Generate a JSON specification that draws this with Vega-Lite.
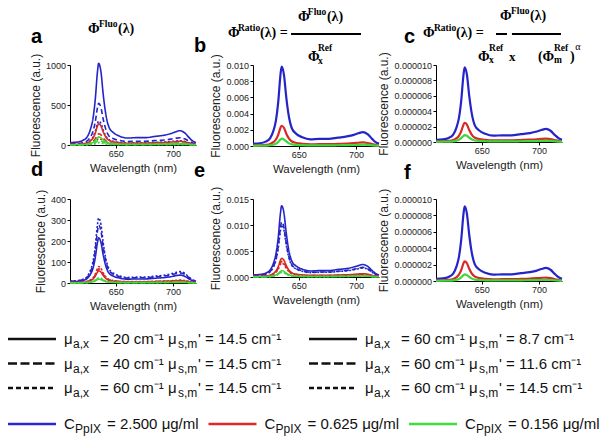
{
"$schema":"https://vega.github.io/schema/vega-lite/v6.json",
"padding":{"left":6,"top":6,"right":0,"bottom":0},
"config":{"view":{"stroke":null},"font":"Liberation Sans",
"axis":{"grid":false,"domainColor":"#000","tickColor":"#000","tickSize":3,"labelFontSize":9,"labelColor":"#222","labelPadding":1.5,"titleFontSize":12,"titleFontWeight":"normal","titleColor":"#222","titlePadding":3,"labelFont":"Liberation Sans","titleFont":"Liberation Sans","labelOverlap":false,"labelFlush":false},
"axisX":{"titleFontSize":11.5,"titlePadding":4}},
"datasets":{
"a":[
{"wl":610,"B1":31,"B2":16,"B3":9,"R1":8,"R2":4.2,"R3":2.4,"G1":3,"G2":1.7,"G3":0.9},
{"wl":616,"B1":36,"B2":18,"B3":10.5,"R1":9.3,"R2":4.9,"R3":2.8,"G1":3.5,"G2":1.9,"G3":1.05},
{"wl":621,"B1":56,"B2":29,"B3":16.5,"R1":14.6,"R2":7.7,"R3":4.4,"G1":5.5,"G2":3,"G3":1.65},
{"wl":625,"B1":102,"B2":52,"B3":30,"R1":26.5,"R2":14,"R3":8,"G1":10,"G2":5.5,"G3":3},
{"wl":628,"B1":204,"B2":104,"B3":60,"R1":53,"R2":28,"R3":16,"G1":20,"G2":11,"G3":6},
{"wl":630,"B1":326,"B2":166,"B3":96,"R1":84.8,"R2":44.8,"R3":25.6,"G1":32,"G2":17.6,"G3":9.6},
{"wl":632,"B1":561,"B2":286,"B3":165,"R1":145.8,"R2":77,"R3":44,"G1":55,"G2":30.3,"G3":16.5},
{"wl":634,"B1":918,"B2":468,"B3":270,"R1":238.5,"R2":126,"R3":72,"G1":90,"G2":49.5,"G3":27},
{"wl":635,"B1":1020,"B2":520,"B3":300,"R1":265,"R2":140,"R3":80,"G1":100,"G2":55,"G3":30},
{"wl":637,"B1":918,"B2":468,"B3":270,"R1":238.5,"R2":126,"R3":72,"G1":90,"G2":49.5,"G3":27},
{"wl":639,"B1":632,"B2":322,"B3":186,"R1":164.3,"R2":86.8,"R3":49.6,"G1":62,"G2":34.1,"G3":18.6},
{"wl":641,"B1":408,"B2":208,"B3":120,"R1":106,"R2":56,"R3":32,"G1":40,"G2":22,"G3":12},
{"wl":644,"B1":224,"B2":114,"B3":66,"R1":58.3,"R2":30.8,"R3":17.6,"G1":22,"G2":12.1,"G3":6.6},
{"wl":648,"B1":153,"B2":78,"B3":45,"R1":39.8,"R2":21,"R3":12,"G1":15,"G2":8.3,"G3":4.5},
{"wl":653,"B1":112,"B2":57,"B3":33,"R1":29.2,"R2":15.4,"R3":8.8,"G1":11,"G2":6.1,"G3":3.3},
{"wl":660,"B1":87,"B2":44,"B3":25.5,"R1":22.5,"R2":11.9,"R3":6.8,"G1":8.5,"G2":4.7,"G3":2.55},
{"wl":668,"B1":92,"B2":47,"B3":27,"R1":23.9,"R2":12.6,"R3":7.2,"G1":9,"G2":5,"G3":2.7},
{"wl":676,"B1":92,"B2":47,"B3":27,"R1":23.9,"R2":12.6,"R3":7.2,"G1":9,"G2":5,"G3":2.7},
{"wl":684,"B1":107,"B2":55,"B3":31.5,"R1":27.8,"R2":14.7,"R3":8.4,"G1":10.5,"G2":5.8,"G3":3.15},
{"wl":692,"B1":122,"B2":62,"B3":36,"R1":31.8,"R2":16.8,"R3":9.6,"G1":12,"G2":6.6,"G3":3.6},
{"wl":698,"B1":143,"B2":73,"B3":42,"R1":37.1,"R2":19.6,"R3":11.2,"G1":14,"G2":7.7,"G3":4.2},
{"wl":702,"B1":163,"B2":83,"B3":48,"R1":42.4,"R2":22.4,"R3":12.8,"G1":16,"G2":8.8,"G3":4.8},
{"wl":706,"B1":179,"B2":91,"B3":52.5,"R1":46.4,"R2":24.5,"R3":14,"G1":17.5,"G2":9.6,"G3":5.25},
{"wl":710,"B1":153,"B2":78,"B3":45,"R1":39.8,"R2":21,"R3":12,"G1":15,"G2":8.3,"G3":4.5},
{"wl":714,"B1":92,"B2":47,"B3":27,"R1":23.9,"R2":12.6,"R3":7.2,"G1":9,"G2":5,"G3":2.7},
{"wl":717,"B1":51,"B2":26,"B3":15,"R1":13.3,"R2":7,"R3":4,"G1":5,"G2":2.8,"G3":1.5},
{"wl":720,"B1":31,"B2":16,"B3":9,"R1":8,"R2":4.2,"R3":2.4,"G1":3,"G2":1.7,"G3":0.9}],
"d":[
{"wl":610,"B1":6.5,"B2":8.3,"B3":9.3,"R1":1.7,"R2":2,"R3":2.3,"G1":0.54,"G2":0.66,"G3":0.75},
{"wl":616,"B1":7.5,"B2":9.6,"B3":10.9,"R1":2,"R2":2.4,"R3":2.7,"G1":0.63,"G2":0.77,"G3":0.88},
{"wl":621,"B1":11.8,"B2":15.1,"B3":17.1,"R1":3.2,"R2":3.7,"R3":4.3,"G1":0.99,"G2":1.21,"G3":1.38},
{"wl":625,"B1":21.5,"B2":27.5,"B3":31,"R1":5.8,"R2":6.8,"R3":7.8,"G1":1.8,"G2":2.2,"G3":2.5},
{"wl":628,"B1":43,"B2":55,"B3":62,"R1":11.6,"R2":13.6,"R3":15.6,"G1":3.6,"G2":4.4,"G3":5},
{"wl":630,"B1":68.8,"B2":88,"B3":99.2,"R1":18.6,"R2":21.8,"R3":25,"G1":5.76,"G2":7.04,"G3":8},
{"wl":632,"B1":118.3,"B2":151.3,"B3":170.5,"R1":31.9,"R2":37.4,"R3":42.9,"G1":9.9,"G2":12.1,"G3":13.75},
{"wl":634,"B1":193.5,"B2":247.5,"B3":279,"R1":52.2,"R2":61.2,"R3":70.2,"G1":16.2,"G2":19.8,"G3":22.5},
{"wl":635,"B1":215,"B2":275,"B3":310,"R1":58,"R2":68,"R3":78,"G1":18,"G2":22,"G3":25},
{"wl":637,"B1":193.5,"B2":247.5,"B3":279,"R1":52.2,"R2":61.2,"R3":70.2,"G1":16.2,"G2":19.8,"G3":22.5},
{"wl":639,"B1":133.3,"B2":170.5,"B3":192.2,"R1":36,"R2":42.2,"R3":48.4,"G1":11.16,"G2":13.64,"G3":15.5},
{"wl":641,"B1":86,"B2":110,"B3":124,"R1":23.2,"R2":27.2,"R3":31.2,"G1":7.2,"G2":8.8,"G3":10},
{"wl":644,"B1":47.3,"B2":60.5,"B3":68.2,"R1":12.8,"R2":15,"R3":17.2,"G1":3.96,"G2":4.84,"G3":5.5},
{"wl":648,"B1":32.3,"B2":41.3,"B3":46.5,"R1":8.7,"R2":10.2,"R3":11.7,"G1":2.7,"G2":3.3,"G3":3.75},
{"wl":653,"B1":23.7,"B2":30.3,"B3":34.1,"R1":6.4,"R2":7.5,"R3":8.6,"G1":1.98,"G2":2.42,"G3":2.75},
{"wl":660,"B1":18.3,"B2":23.4,"B3":26.4,"R1":4.9,"R2":5.8,"R3":6.6,"G1":1.53,"G2":1.87,"G3":2.13},
{"wl":668,"B1":19.4,"B2":24.8,"B3":27.9,"R1":5.2,"R2":6.1,"R3":7,"G1":1.62,"G2":1.98,"G3":2.25},
{"wl":676,"B1":19.4,"B2":24.8,"B3":27.9,"R1":5.2,"R2":6.1,"R3":7,"G1":1.62,"G2":1.98,"G3":2.25},
{"wl":684,"B1":22.6,"B2":28.9,"B3":32.6,"R1":6.1,"R2":7.1,"R3":8.2,"G1":1.89,"G2":2.31,"G3":2.63},
{"wl":692,"B1":25.8,"B2":33,"B3":37.2,"R1":7,"R2":8.2,"R3":9.4,"G1":2.16,"G2":2.64,"G3":3},
{"wl":698,"B1":30.1,"B2":38.5,"B3":43.4,"R1":8.1,"R2":9.5,"R3":10.9,"G1":2.52,"G2":3.08,"G3":3.5},
{"wl":702,"B1":34.4,"B2":44,"B3":49.6,"R1":9.3,"R2":10.9,"R3":12.5,"G1":2.88,"G2":3.52,"G3":4},
{"wl":706,"B1":37.6,"B2":48.1,"B3":54.3,"R1":10.2,"R2":11.9,"R3":13.7,"G1":3.15,"G2":3.85,"G3":4.38},
{"wl":710,"B1":32.3,"B2":41.3,"B3":46.5,"R1":8.7,"R2":10.2,"R3":11.7,"G1":2.7,"G2":3.3,"G3":3.75},
{"wl":714,"B1":19.4,"B2":24.8,"B3":27.9,"R1":5.2,"R2":6.1,"R3":7,"G1":1.62,"G2":1.98,"G3":2.25},
{"wl":717,"B1":10.8,"B2":13.8,"B3":15.5,"R1":2.9,"R2":3.4,"R3":3.9,"G1":0.9,"G2":1.1,"G3":1.25},
{"wl":720,"B1":6.5,"B2":8.3,"B3":9.3,"R1":1.7,"R2":2,"R3":2.3,"G1":0.54,"G2":0.66,"G3":0.75}],
"e":[
{"wl":610,"B1":0.00041,"B2":0.00032,"B3":0.0003,"R1":0.00011,"R2":0.00009,"R3":0.00008,"G1":0.000036,"G2":0.00003,"G3":0.000027},
{"wl":616,"B1":0.00048,"B2":0.00037,"B3":0.00035,"R1":0.00013,"R2":0.000105,"R3":0.00009,"G1":0.000042,"G2":0.000035,"G3":0.000032},
{"wl":621,"B1":0.00075,"B2":0.00058,"B3":0.00055,"R1":0.0002,"R2":0.000165,"R3":0.00015,"G1":0.000066,"G2":0.000055,"G3":0.00005},
{"wl":625,"B1":0.00137,"B2":0.00106,"B3":0.001,"R1":0.00036,"R2":0.0003,"R3":0.00027,"G1":0.00012,"G2":0.0001,"G3":0.00009},
{"wl":628,"B1":0.00274,"B2":0.00212,"B3":0.002,"R1":0.00072,"R2":0.0006,"R3":0.00054,"G1":0.00024,"G2":0.0002,"G3":0.00018},
{"wl":630,"B1":0.00438,"B2":0.00339,"B3":0.0032,"R1":0.00115,"R2":0.00096,"R3":0.00086,"G1":0.000384,"G2":0.00032,"G3":0.000288},
{"wl":632,"B1":0.00754,"B2":0.00583,"B3":0.0055,"R1":0.00198,"R2":0.00165,"R3":0.00149,"G1":0.00066,"G2":0.00055,"G3":0.000495},
{"wl":634,"B1":0.01233,"B2":0.00954,"B3":0.009,"R1":0.00324,"R2":0.0027,"R3":0.00243,"G1":0.00108,"G2":0.0009,"G3":0.00081},
{"wl":635,"B1":0.0137,"B2":0.0106,"B3":0.01,"R1":0.0036,"R2":0.003,"R3":0.0027,"G1":0.0012,"G2":0.001,"G3":0.0009},
{"wl":637,"B1":0.01233,"B2":0.00954,"B3":0.009,"R1":0.00324,"R2":0.0027,"R3":0.00243,"G1":0.00108,"G2":0.0009,"G3":0.00081},
{"wl":639,"B1":0.00849,"B2":0.00657,"B3":0.0062,"R1":0.00223,"R2":0.00186,"R3":0.00167,"G1":0.000744,"G2":0.00062,"G3":0.000558},
{"wl":641,"B1":0.00548,"B2":0.00424,"B3":0.004,"R1":0.00144,"R2":0.0012,"R3":0.00108,"G1":0.00048,"G2":0.0004,"G3":0.00036},
{"wl":644,"B1":0.00301,"B2":0.00233,"B3":0.0022,"R1":0.00079,"R2":0.00066,"R3":0.00059,"G1":0.000264,"G2":0.00022,"G3":0.000198},
{"wl":648,"B1":0.00206,"B2":0.00159,"B3":0.0015,"R1":0.00054,"R2":0.00045,"R3":0.00041,"G1":0.00018,"G2":0.00015,"G3":0.000135},
{"wl":653,"B1":0.00151,"B2":0.00117,"B3":0.0011,"R1":0.0004,"R2":0.00033,"R3":0.0003,"G1":0.000132,"G2":0.00011,"G3":0.000099},
{"wl":660,"B1":0.00116,"B2":0.0009,"B3":0.00085,"R1":0.00031,"R2":0.000255,"R3":0.00023,"G1":0.000102,"G2":0.000085,"G3":0.000077},
{"wl":668,"B1":0.00123,"B2":0.00095,"B3":0.0009,"R1":0.00032,"R2":0.00027,"R3":0.00024,"G1":0.000108,"G2":0.00009,"G3":0.000081},
{"wl":676,"B1":0.00123,"B2":0.00095,"B3":0.0009,"R1":0.00032,"R2":0.00027,"R3":0.00024,"G1":0.000108,"G2":0.00009,"G3":0.000081},
{"wl":684,"B1":0.00144,"B2":0.00111,"B3":0.00105,"R1":0.00038,"R2":0.000315,"R3":0.00028,"G1":0.000126,"G2":0.000105,"G3":0.000095},
{"wl":692,"B1":0.00164,"B2":0.00127,"B3":0.0012,"R1":0.00043,"R2":0.00036,"R3":0.00032,"G1":0.000144,"G2":0.00012,"G3":0.000108},
{"wl":698,"B1":0.00192,"B2":0.00148,"B3":0.0014,"R1":0.0005,"R2":0.00042,"R3":0.00038,"G1":0.000168,"G2":0.00014,"G3":0.000126},
{"wl":702,"B1":0.00219,"B2":0.0017,"B3":0.0016,"R1":0.00058,"R2":0.00048,"R3":0.00043,"G1":0.000192,"G2":0.00016,"G3":0.000144},
{"wl":706,"B1":0.0024,"B2":0.00186,"B3":0.00175,"R1":0.00063,"R2":0.000525,"R3":0.00047,"G1":0.00021,"G2":0.000175,"G3":0.000158},
{"wl":710,"B1":0.00206,"B2":0.00159,"B3":0.0015,"R1":0.00054,"R2":0.00045,"R3":0.00041,"G1":0.00018,"G2":0.00015,"G3":0.000135},
{"wl":714,"B1":0.00123,"B2":0.00095,"B3":0.0009,"R1":0.00032,"R2":0.00027,"R3":0.00024,"G1":0.000108,"G2":0.00009,"G3":0.000081},
{"wl":717,"B1":0.00069,"B2":0.00053,"B3":0.0005,"R1":0.00018,"R2":0.00015,"R3":0.00014,"G1":0.00006,"G2":0.00005,"G3":0.000045},
{"wl":720,"B1":0.00041,"B2":0.00032,"B3":0.0003,"R1":0.00011,"R2":0.00009,"R3":0.00008,"G1":0.000036,"G2":0.00003,"G3":0.000027}],
"b":[
{"wl":610,"B1":0.00029,"R1":0.000075,"G1":0.000027},
{"wl":616,"B1":0.00034,"R1":0.000088,"G1":0.000032},
{"wl":621,"B1":0.00054,"R1":0.000138,"G1":0.00005},
{"wl":625,"B1":0.00098,"R1":0.00025,"G1":0.00009},
{"wl":628,"B1":0.00196,"R1":0.0005,"G1":0.00018},
{"wl":630,"B1":0.00314,"R1":0.0008,"G1":0.000288},
{"wl":632,"B1":0.00539,"R1":0.001375,"G1":0.000495},
{"wl":634,"B1":0.00882,"R1":0.00225,"G1":0.00081},
{"wl":635,"B1":0.0098,"R1":0.0025,"G1":0.0009},
{"wl":637,"B1":0.00882,"R1":0.00225,"G1":0.00081},
{"wl":639,"B1":0.00608,"R1":0.00155,"G1":0.000558},
{"wl":641,"B1":0.00392,"R1":0.001,"G1":0.00036},
{"wl":644,"B1":0.00216,"R1":0.00055,"G1":0.000198},
{"wl":648,"B1":0.00147,"R1":0.000375,"G1":0.000135},
{"wl":653,"B1":0.00108,"R1":0.000275,"G1":0.000099},
{"wl":660,"B1":0.00083,"R1":0.000213,"G1":0.000077},
{"wl":668,"B1":0.00088,"R1":0.000225,"G1":0.000081},
{"wl":676,"B1":0.00088,"R1":0.000225,"G1":0.000081},
{"wl":684,"B1":0.00103,"R1":0.000263,"G1":0.000095},
{"wl":692,"B1":0.00118,"R1":0.0003,"G1":0.000108},
{"wl":698,"B1":0.00137,"R1":0.00035,"G1":0.000126},
{"wl":702,"B1":0.00157,"R1":0.0004,"G1":0.000144},
{"wl":706,"B1":0.00172,"R1":0.000438,"G1":0.000158},
{"wl":710,"B1":0.00147,"R1":0.000375,"G1":0.000135},
{"wl":714,"B1":0.00088,"R1":0.000225,"G1":0.000081},
{"wl":717,"B1":0.00049,"R1":0.000125,"G1":0.000045},
{"wl":720,"B1":0.00029,"R1":0.000075,"G1":0.000027}],
"c":[
{"wl":610,"B1":2.9e-7,"R1":7.5e-8,"G1":2.7e-8},
{"wl":616,"B1":3.4e-7,"R1":8.8e-8,"G1":3.2e-8},
{"wl":621,"B1":5.3e-7,"R1":1.38e-7,"G1":5e-8},
{"wl":625,"B1":9.7e-7,"R1":2.5e-7,"G1":9e-8},
{"wl":628,"B1":1.94e-6,"R1":5e-7,"G1":1.8e-7},
{"wl":630,"B1":3.1e-6,"R1":8e-7,"G1":2.9e-7},
{"wl":632,"B1":5.34e-6,"R1":1.38e-6,"G1":5e-7},
{"wl":634,"B1":8.73e-6,"R1":2.25e-6,"G1":8.1e-7},
{"wl":635,"B1":9.7e-6,"R1":2.5e-6,"G1":9e-7},
{"wl":637,"B1":8.73e-6,"R1":2.25e-6,"G1":8.1e-7},
{"wl":639,"B1":6.01e-6,"R1":1.55e-6,"G1":5.6e-7},
{"wl":641,"B1":3.88e-6,"R1":1e-6,"G1":3.6e-7},
{"wl":644,"B1":2.13e-6,"R1":5.5e-7,"G1":2e-7},
{"wl":648,"B1":1.46e-6,"R1":3.8e-7,"G1":1.35e-7},
{"wl":653,"B1":1.07e-6,"R1":2.8e-7,"G1":1e-7},
{"wl":660,"B1":8.2e-7,"R1":2.1e-7,"G1":7.7e-8},
{"wl":668,"B1":8.7e-7,"R1":2.3e-7,"G1":8.1e-8},
{"wl":676,"B1":8.7e-7,"R1":2.3e-7,"G1":8.1e-8},
{"wl":684,"B1":1.02e-6,"R1":2.6e-7,"G1":9.5e-8},
{"wl":692,"B1":1.16e-6,"R1":3e-7,"G1":1.08e-7},
{"wl":698,"B1":1.36e-6,"R1":3.5e-7,"G1":1.26e-7},
{"wl":702,"B1":1.55e-6,"R1":4e-7,"G1":1.44e-7},
{"wl":706,"B1":1.7e-6,"R1":4.4e-7,"G1":1.58e-7},
{"wl":710,"B1":1.46e-6,"R1":3.8e-7,"G1":1.35e-7},
{"wl":714,"B1":8.7e-7,"R1":2.3e-7,"G1":8.1e-8},
{"wl":717,"B1":4.9e-7,"R1":1.3e-7,"G1":4.5e-8},
{"wl":720,"B1":2.9e-7,"R1":7.5e-8,"G1":2.7e-8}],
"f":[
{"wl":610,"B1":2.7e-7,"R1":7.2e-8,"G1":2.4e-8},
{"wl":616,"B1":3.2e-7,"R1":8.4e-8,"G1":2.8e-8},
{"wl":621,"B1":5e-7,"R1":1.32e-7,"G1":4.4e-8},
{"wl":625,"B1":9.1e-7,"R1":2.4e-7,"G1":8e-8},
{"wl":628,"B1":1.82e-6,"R1":4.8e-7,"G1":1.6e-7},
{"wl":630,"B1":2.91e-6,"R1":7.7e-7,"G1":2.56e-7},
{"wl":632,"B1":5.01e-6,"R1":1.32e-6,"G1":4.4e-7},
{"wl":634,"B1":8.19e-6,"R1":2.16e-6,"G1":7.2e-7},
{"wl":635,"B1":9.1e-6,"R1":2.4e-6,"G1":8e-7},
{"wl":637,"B1":8.19e-6,"R1":2.16e-6,"G1":7.2e-7},
{"wl":639,"B1":5.64e-6,"R1":1.49e-6,"G1":5e-7},
{"wl":641,"B1":3.64e-6,"R1":9.6e-7,"G1":3.2e-7},
{"wl":644,"B1":2e-6,"R1":5.3e-7,"G1":1.76e-7},
{"wl":648,"B1":1.37e-6,"R1":3.6e-7,"G1":1.2e-7},
{"wl":653,"B1":1e-6,"R1":2.6e-7,"G1":8.8e-8},
{"wl":660,"B1":7.7e-7,"R1":2e-7,"G1":6.8e-8},
{"wl":668,"B1":8.2e-7,"R1":2.2e-7,"G1":7.2e-8},
{"wl":676,"B1":8.2e-7,"R1":2.2e-7,"G1":7.2e-8},
{"wl":684,"B1":9.6e-7,"R1":2.5e-7,"G1":8.4e-8},
{"wl":692,"B1":1.09e-6,"R1":2.9e-7,"G1":9.6e-8},
{"wl":698,"B1":1.27e-6,"R1":3.4e-7,"G1":1.12e-7},
{"wl":702,"B1":1.46e-6,"R1":3.8e-7,"G1":1.28e-7},
{"wl":706,"B1":1.59e-6,"R1":4.2e-7,"G1":1.4e-7},
{"wl":710,"B1":1.37e-6,"R1":3.6e-7,"G1":1.2e-7},
{"wl":714,"B1":8.2e-7,"R1":2.2e-7,"G1":7.2e-8},
{"wl":717,"B1":4.6e-7,"R1":1.2e-7,"G1":4e-8},
{"wl":720,"B1":2.7e-7,"R1":7.2e-8,"G1":2.4e-8}],
"mu":[
{"col":0,"row":0,"dash":"solid","lead":"= 20 cm⁻¹ μ","tail":"' = 14.5 cm⁻¹"},
{"col":0,"row":1,"dash":"dashed","lead":"= 40 cm⁻¹ μ","tail":"' = 14.5 cm⁻¹"},
{"col":0,"row":2,"dash":"dotted","lead":"= 60 cm⁻¹ μ","tail":"' = 14.5 cm⁻¹"},
{"col":1,"row":0,"dash":"solid","lead":"= 60 cm⁻¹ μ","tail":"' = 8.7 cm⁻¹"},
{"col":1,"row":1,"dash":"dashed","lead":"= 60 cm⁻¹ μ","tail":"' = 11.6 cm⁻¹"},
{"col":1,"row":2,"dash":"dotted","lead":"= 60 cm⁻¹ μ","tail":"' = 14.5 cm⁻¹"}],
"conc":[
{"idx":0,"conc":"2.500","lbl":"= 2.500 μg/ml"},
{"idx":1,"conc":"0.625","lbl":"= 0.625 μg/ml"},
{"idx":2,"conc":"0.156","lbl":"= 0.156 μg/ml"}]
},
"columns":3,
"align":"none",
"bounds":"flush",
"spacing":{"row":53,"column":57},
"resolve":{"scale":{"x":"independent","y":"independent","color":"independent","strokeDash":"independent"}},
"concat":[
{"width":126,"height":80,"layer":[
{"data":{"name":"a"},"transform":[{"fold":["B1","B2","B3","R1","R2","R3","G1","G2","G3"],"as":["curve","fl"]}],
"mark":{"type":"line","interpolate":"monotone","strokeWidth":1.6},
"encoding":{
"x":{"field":"wl","type":"quantitative","scale":{"domain":[610,720],"nice":false,"zero":false},"axis":{"values":[650,700],"tickCount":20,"format":"d","title":"Wavelength (nm)"}},
"y":{"field":"fl","type":"quantitative","scale":{"domain":[0,1000],"nice":false},"axis":{"values":[0,500,1000],"tickCount":20,"format":"d","title":"Fluorescence (a.u.)"}},
"color":{"field":"curve","type":"nominal","scale":{"domain":["B1","B2","B3","R1","R2","R3","G1","G2","G3"],"range":["#2424c8","#2424c8","#2424c8","#d82828","#d82828","#d82828","#3cd83c","#3cd83c","#3cd83c"]},"legend":null},
"strokeDash":{"field":"curve","type":"nominal","scale":{"domain":["B1","B2","B3","R1","R2","R3","G1","G2","G3"],"range":[[1,0],[5,3],[2,2],[1,0],[5,3],[2,2],[1,0],[5,3],[2,2]]},"legend":null}}},
{"data":{"values":[{}]},"layer":[
{"mark":{"type":"text","align":"left","baseline":"alphabetic","font":"Liberation Sans","fontWeight":"bold","fontSize":20},"encoding":{"x":{"datum":576,"type":"quantitative"},"y":{"datum":1275,"type":"quantitative"},"text":{"value":"a"}}},
{"mark":{"type":"text","align":"left","baseline":"alphabetic","font":"Liberation Serif","fontWeight":"bold","fontSize":14},"encoding":{"x":{"datum":625.7,"type":"quantitative"},"y":{"datum":1400,"type":"quantitative"},"text":{"value":"Φ"}}},
{"mark":{"type":"text","align":"left","baseline":"alphabetic","font":"Liberation Serif","fontWeight":"bold","fontSize":9.5},"encoding":{"x":{"datum":635.3,"type":"quantitative"},"y":{"datum":1475,"type":"quantitative"},"text":{"value":"Fluo"}}},
{"mark":{"type":"text","align":"left","baseline":"alphabetic","font":"Liberation Serif","fontWeight":"bold","fontSize":14},"encoding":{"x":{"datum":651.9,"type":"quantitative"},"y":{"datum":1400,"type":"quantitative"},"text":{"value":"(λ)"}}}
]}]},
{"width":126,"height":81,"layer":[
{"data":{"name":"b"},"transform":[{"fold":["B1","R1","G1"],"as":["curve","fl"]}],
"mark":{"type":"line","interpolate":"monotone","strokeWidth":2.2},
"encoding":{
"x":{"field":"wl","type":"quantitative","scale":{"domain":[610,720],"nice":false,"zero":false},"axis":{"values":[650,700],"tickCount":20,"format":"d","title":"Wavelength (nm)"}},
"y":{"field":"fl","type":"quantitative","scale":{"domain":[0,0.01],"nice":false},"axis":{"values":[0,0.002,0.004,0.006,0.008,0.01],"tickCount":20,"format":".3f","title":"Fluorescence (a.u.)"}},
"color":{"field":"curve","type":"nominal","scale":{"domain":["B1","R1","G1"],"range":["#2424c8","#d82828","#3cd83c"]},"legend":null}}},
{"data":{"values":[{}]},"layer":[
{"mark":{"type":"text","align":"left","baseline":"alphabetic","font":"Liberation Sans","fontWeight":"bold","fontSize":20},"encoding":{"x":{"datum":558.5,"type":"quantitative"},"y":{"datum":0.01161,"type":"quantitative"},"text":{"value":"b"}}},
{"mark":{"type":"text","align":"left","baseline":"alphabetic","font":"Liberation Serif","fontWeight":"bold","fontSize":14},"encoding":{"x":{"datum":588.2,"type":"quantitative"},"y":{"datum":0.013457,"type":"quantitative"},"text":{"value":"Φ"}}},
{"mark":{"type":"text","align":"left","baseline":"alphabetic","font":"Liberation Serif","fontWeight":"bold","fontSize":9.5},"encoding":{"x":{"datum":596.9,"type":"quantitative"},"y":{"datum":0.014198,"type":"quantitative"},"text":{"value":"Ratio"}}},
{"mark":{"type":"text","align":"left","baseline":"alphabetic","font":"Liberation Serif","fontWeight":"bold","fontSize":14},"encoding":{"x":{"datum":616.1,"type":"quantitative"},"y":{"datum":0.013457,"type":"quantitative"},"text":{"value":"(λ) ="}}},
{"mark":{"type":"rule","strokeWidth":2,"color":"#000"},"encoding":{"x":{"datum":643.2,"type":"quantitative"},"x2":{"datum":704.3},"y":{"datum":0.013827,"type":"quantitative"}}},
{"mark":{"type":"text","align":"left","baseline":"alphabetic","font":"Liberation Serif","fontWeight":"bold","fontSize":14},"encoding":{"x":{"datum":649.3,"type":"quantitative"},"y":{"datum":0.015432,"type":"quantitative"},"text":{"value":"Φ"}}},
{"mark":{"type":"text","align":"left","baseline":"alphabetic","font":"Liberation Serif","fontWeight":"bold","fontSize":9.5},"encoding":{"x":{"datum":657.9,"type":"quantitative"},"y":{"datum":0.016173,"type":"quantitative"},"text":{"value":"Fluo"}}},
{"mark":{"type":"text","align":"left","baseline":"alphabetic","font":"Liberation Serif","fontWeight":"bold","fontSize":14},"encoding":{"x":{"datum":674.5,"type":"quantitative"},"y":{"datum":0.015432,"type":"quantitative"},"text":{"value":"(λ)"}}},
{"mark":{"type":"text","align":"left","baseline":"alphabetic","font":"Liberation Serif","fontWeight":"bold","fontSize":14},"encoding":{"x":{"datum":658.0,"type":"quantitative"},"y":{"datum":0.010494,"type":"quantitative"},"text":{"value":"Φ"}}},
{"mark":{"type":"text","align":"left","baseline":"alphabetic","font":"Liberation Serif","fontWeight":"bold","fontSize":9.5},"encoding":{"x":{"datum":666.7,"type":"quantitative"},"y":{"datum":0.010123,"type":"quantitative"},"text":{"value":"x"}}},
{"mark":{"type":"text","align":"left","baseline":"alphabetic","font":"Liberation Serif","fontWeight":"bold","fontSize":9.5},"encoding":{"x":{"datum":666.7,"type":"quantitative"},"y":{"datum":0.011728,"type":"quantitative"},"text":{"value":"Ref"}}}
]}]},
{"width":126,"height":77,"layer":[
{"data":{"name":"c"},"transform":[{"fold":["B1","R1","G1"],"as":["curve","fl"]}],
"mark":{"type":"line","interpolate":"monotone","strokeWidth":2.2},
"encoding":{
"x":{"field":"wl","type":"quantitative","scale":{"domain":[610,720],"nice":false,"zero":false},"axis":{"values":[650,700],"tickCount":20,"format":"d","title":"Wavelength (nm)"}},
"y":{"field":"fl","type":"quantitative","scale":{"domain":[0,0.00001],"nice":false},"axis":{"values":[0,0.000002,0.000004,0.000006,0.000008,0.00001],"tickCount":20,"format":".6f","title":"Fluorescence (a.u.)"}},
"color":{"field":"curve","type":"nominal","scale":{"domain":["B1","R1","G1"],"range":["#2424c8","#d82828","#3cd83c"]},"legend":null}}},
{"data":{"values":[{}]},"layer":[
{"mark":{"type":"text","align":"left","baseline":"alphabetic","font":"Liberation Sans","fontWeight":"bold","fontSize":20},"encoding":{"x":{"datum":582.1,"type":"quantitative"},"y":{"datum":0.000012857,"type":"quantitative"},"text":{"value":"c"}}},
{"mark":{"type":"text","align":"left","baseline":"alphabetic","font":"Liberation Serif","fontWeight":"bold","fontSize":14},"encoding":{"x":{"datum":598.65,"type":"quantitative"},"y":{"datum":0.000013636,"type":"quantitative"},"text":{"value":"Φ"}}},
{"mark":{"type":"text","align":"left","baseline":"alphabetic","font":"Liberation Serif","fontWeight":"bold","fontSize":9.5},"encoding":{"x":{"datum":608.25,"type":"quantitative"},"y":{"datum":0.000014416,"type":"quantitative"},"text":{"value":"Ratio"}}},
{"mark":{"type":"text","align":"left","baseline":"alphabetic","font":"Liberation Serif","fontWeight":"bold","fontSize":14},"encoding":{"x":{"datum":627.46,"type":"quantitative"},"y":{"datum":0.000013636,"type":"quantitative"},"text":{"value":"(λ) ="}}},
{"mark":{"type":"rule","strokeWidth":2,"color":"#000"},"encoding":{"x":{"datum":662.4,"type":"quantitative"},"x2":{"datum":672.0},"y":{"datum":0.000014026,"type":"quantitative"}}},
{"mark":{"type":"rule","strokeWidth":2,"color":"#000"},"encoding":{"x":{"datum":676.3,"type":"quantitative"},"x2":{"datum":719.1},"y":{"datum":0.000014026,"type":"quantitative"}}},
{"mark":{"type":"text","align":"left","baseline":"alphabetic","font":"Liberation Serif","fontWeight":"bold","fontSize":14},"encoding":{"x":{"datum":665.9,"type":"quantitative"},"y":{"datum":0.000015844,"type":"quantitative"},"text":{"value":"Φ"}}},
{"mark":{"type":"text","align":"left","baseline":"alphabetic","font":"Liberation Serif","fontWeight":"bold","fontSize":9.5},"encoding":{"x":{"datum":675.5,"type":"quantitative"},"y":{"datum":0.000016623,"type":"quantitative"},"text":{"value":"Fluo"}}},
{"mark":{"type":"text","align":"left","baseline":"alphabetic","font":"Liberation Serif","fontWeight":"bold","fontSize":14},"encoding":{"x":{"datum":692.1,"type":"quantitative"},"y":{"datum":0.000015844,"type":"quantitative"},"text":{"value":"(λ)"}}},
{"mark":{"type":"text","align":"left","baseline":"alphabetic","font":"Liberation Serif","fontWeight":"bold","fontSize":14},"encoding":{"x":{"datum":646.7,"type":"quantitative"},"y":{"datum":0.000010519,"type":"quantitative"},"text":{"value":"Φ"}}},
{"mark":{"type":"text","align":"left","baseline":"alphabetic","font":"Liberation Serif","fontWeight":"bold","fontSize":9.5},"encoding":{"x":{"datum":656.3,"type":"quantitative"},"y":{"datum":0.00001026,"type":"quantitative"},"text":{"value":"x"}}},
{"mark":{"type":"text","align":"left","baseline":"alphabetic","font":"Liberation Serif","fontWeight":"bold","fontSize":9.5},"encoding":{"x":{"datum":656.3,"type":"quantitative"},"y":{"datum":0.000011818,"type":"quantitative"},"text":{"value":"Ref"}}},
{"mark":{"type":"text","align":"left","baseline":"alphabetic","font":"Liberation Serif","fontWeight":"bold","fontSize":13},"encoding":{"x":{"datum":673.7,"type":"quantitative"},"y":{"datum":0.000010519,"type":"quantitative"},"text":{"value":"x"}}},
{"mark":{"type":"text","align":"left","baseline":"alphabetic","font":"Liberation Serif","fontWeight":"bold","fontSize":14},"encoding":{"x":{"datum":699.0,"type":"quantitative"},"y":{"datum":0.000010519,"type":"quantitative"},"text":{"value":"(Φ"}}},
{"mark":{"type":"text","align":"left","baseline":"alphabetic","font":"Liberation Serif","fontWeight":"bold","fontSize":9.5},"encoding":{"x":{"datum":713.0,"type":"quantitative"},"y":{"datum":0.00001026,"type":"quantitative"},"text":{"value":"m"}}},
{"mark":{"type":"text","align":"left","baseline":"alphabetic","font":"Liberation Serif","fontWeight":"bold","fontSize":9.5},"encoding":{"x":{"datum":713.0,"type":"quantitative"},"y":{"datum":0.000011818,"type":"quantitative"},"text":{"value":"Ref"}}},
{"mark":{"type":"text","align":"left","baseline":"alphabetic","font":"Liberation Serif","fontWeight":"bold","fontSize":14},"encoding":{"x":{"datum":727.0,"type":"quantitative"},"y":{"datum":0.000010519,"type":"quantitative"},"text":{"value":")"}}},
{"mark":{"type":"text","align":"left","baseline":"alphabetic","font":"Liberation Serif","fontSize":10},"encoding":{"x":{"datum":731.5,"type":"quantitative"},"y":{"datum":0.000011948,"type":"quantitative"},"text":{"value":"α"}}}
]}]},
{"width":126,"height":84,"layer":[
{"data":{"name":"d"},"transform":[{"fold":["B1","B2","B3","R1","R2","R3","G1","G2","G3"],"as":["curve","fl"]}],
"mark":{"type":"line","interpolate":"monotone","strokeWidth":1.6},
"encoding":{
"x":{"field":"wl","type":"quantitative","scale":{"domain":[610,720],"nice":false,"zero":false},"axis":{"values":[650,700],"tickCount":20,"format":"d","title":"Wavelength (nm)"}},
"y":{"field":"fl","type":"quantitative","scale":{"domain":[0,400],"nice":false},"axis":{"values":[0,100,200,300,400],"tickCount":20,"format":"d","title":"Fluorescence (a.u.)"}},
"color":{"field":"curve","type":"nominal","scale":{"domain":["B1","B2","B3","R1","R2","R3","G1","G2","G3"],"range":["#2424c8","#2424c8","#2424c8","#d82828","#d82828","#d82828","#3cd83c","#3cd83c","#3cd83c"]},"legend":null},
"strokeDash":{"field":"curve","type":"nominal","scale":{"domain":["B1","B2","B3","R1","R2","R3","G1","G2","G3"],"range":[[1,0],[5,3],[2,2],[1,0],[5,3],[2,2],[1,0],[5,3],[2,2]]},"legend":null}}},
{"data":{"values":[{}]},"layer":[
{"mark":{"type":"text","align":"left","baseline":"alphabetic","font":"Liberation Sans","fontWeight":"bold","fontSize":20},"encoding":{"x":{"datum":576,"type":"quantitative"},"y":{"datum":509.5,"type":"quantitative"},"text":{"value":"d"}}}
]}]},
{"width":126,"height":78,"layer":[
{"data":{"name":"e"},"transform":[{"fold":["B1","B2","B3","R1","R2","R3","G1","G2","G3"],"as":["curve","fl"]}],
"mark":{"type":"line","interpolate":"monotone","strokeWidth":1.6},
"encoding":{
"x":{"field":"wl","type":"quantitative","scale":{"domain":[610,720],"nice":false,"zero":false},"axis":{"values":[650,700],"tickCount":20,"format":"d","title":"Wavelength (nm)"}},
"y":{"field":"fl","type":"quantitative","scale":{"domain":[0,0.015],"nice":false},"axis":{"values":[0,0.005,0.01,0.015],"tickCount":20,"format":".3f","title":"Fluorescence (a.u.)"}},
"color":{"field":"curve","type":"nominal","scale":{"domain":["B1","B2","B3","R1","R2","R3","G1","G2","G3"],"range":["#2424c8","#2424c8","#2424c8","#d82828","#d82828","#d82828","#3cd83c","#3cd83c","#3cd83c"]},"legend":null},
"strokeDash":{"field":"curve","type":"nominal","scale":{"domain":["B1","B2","B3","R1","R2","R3","G1","G2","G3"],"range":[[1,0],[5,3],[2,2],[1,0],[5,3],[2,2],[1,0],[5,3],[2,2]]},"legend":null}}},
{"data":{"values":[{}]},"layer":[
{"mark":{"type":"text","align":"left","baseline":"alphabetic","font":"Liberation Sans","fontWeight":"bold","fontSize":20},"encoding":{"x":{"datum":558.5,"type":"quantitative"},"y":{"datum":0.019231,"type":"quantitative"},"text":{"value":"e"}}}
]}]},
{"width":126,"height":82,"layer":[
{"data":{"name":"f"},"transform":[{"fold":["B1","R1","G1"],"as":["curve","fl"]}],
"mark":{"type":"line","interpolate":"monotone","strokeWidth":2.2},
"encoding":{
"x":{"field":"wl","type":"quantitative","scale":{"domain":[610,720],"nice":false,"zero":false},"axis":{"values":[650,700],"tickCount":20,"format":"d","title":"Wavelength (nm)"}},
"y":{"field":"fl","type":"quantitative","scale":{"domain":[0,0.00001],"nice":false},"axis":{"values":[0,0.000002,0.000004,0.000006,0.000008,0.00001],"tickCount":20,"format":".6f","title":"Fluorescence (a.u.)"}},
"color":{"field":"curve","type":"nominal","scale":{"domain":["B1","R1","G1"],"range":["#2424c8","#d82828","#3cd83c"]},"legend":null}}},
{"data":{"values":[{}]},"layer":[
{"mark":{"type":"text","align":"left","baseline":"alphabetic","font":"Liberation Sans","fontWeight":"bold","fontSize":20},"encoding":{"x":{"datum":582.1,"type":"quantitative"},"y":{"datum":0.000012439,"type":"quantitative"},"text":{"value":"f"}}}
]}]},
{"width":126,"height":100,
"resolve":{"scale":{"x":"independent","y":"independent","color":"independent","strokeDash":"independent"}},
"layer":[
{"data":{"name":"mu"},
"encoding":{"x":{"field":"col","type":"quantitative","scale":{"domain":[0,1],"range":[-62,239]},"axis":null},
"y":{"field":"row","type":"quantitative","scale":{"domain":[0,2],"range":[3,52]},"axis":null}},
"layer":[
{"mark":{"type":"rule","x2Offset":48,"strokeWidth":2.5,"color":"#111"},"encoding":{"x2":{"field":"col"},"strokeDash":{"field":"dash","type":"nominal","scale":{"domain":["solid","dashed","dotted"],"range":[[1,0],[9,3.5],[5,3]]},"legend":null}}},
{"mark":{"type":"text","align":"left","baseline":"middle","dx":56,"font":"Liberation Sans","fontSize":15,"color":"#111"},"encoding":{"text":{"value":"μ"}}},
{"mark":{"type":"text","align":"left","baseline":"middle","dx":65,"dy":5,"font":"Liberation Sans","fontSize":12,"color":"#111"},"encoding":{"text":{"value":"a,x"}}},
{"mark":{"type":"text","align":"left","baseline":"middle","dx":92,"font":"Liberation Sans","fontSize":15,"color":"#111"},"encoding":{"text":{"field":"lead"}}},
{"mark":{"type":"text","align":"left","baseline":"middle","dx":170,"dy":5,"font":"Liberation Sans","fontSize":12,"color":"#111"},"encoding":{"text":{"value":"s,m"}}},
{"mark":{"type":"text","align":"left","baseline":"middle","dx":190,"font":"Liberation Sans","fontSize":15,"color":"#111"},"encoding":{"text":{"field":"tail"}}}
]},
{"data":{"name":"conc"},
"encoding":{"x":{"field":"idx","type":"quantitative","scale":{"domain":[0,2],"range":[-62,339]},"axis":null},
"y":{"datum":0,"type":"quantitative","scale":{"domain":[0,1],"range":[88,110]},"axis":null}},
"layer":[
{"mark":{"type":"rule","x2Offset":48,"strokeWidth":2.5},"encoding":{"x2":{"field":"idx"},"color":{"field":"conc","type":"nominal","scale":{"domain":["2.500","0.625","0.156"],"range":["#2828d0","#e02828","#3ce03c"]},"legend":null}}},
{"mark":{"type":"text","align":"left","baseline":"middle","dx":56,"font":"Liberation Sans","fontSize":15,"color":"#111"},"encoding":{"text":{"value":"C"}}},
{"mark":{"type":"text","align":"left","baseline":"middle","dx":67,"dy":5,"font":"Liberation Sans","fontSize":12,"color":"#111"},"encoding":{"text":{"value":"PpIX"}}},
{"mark":{"type":"text","align":"left","baseline":"middle","dx":99,"font":"Liberation Sans","fontSize":15,"color":"#111"},"encoding":{"text":{"field":"lbl"}}}
]}
]}
]
}
